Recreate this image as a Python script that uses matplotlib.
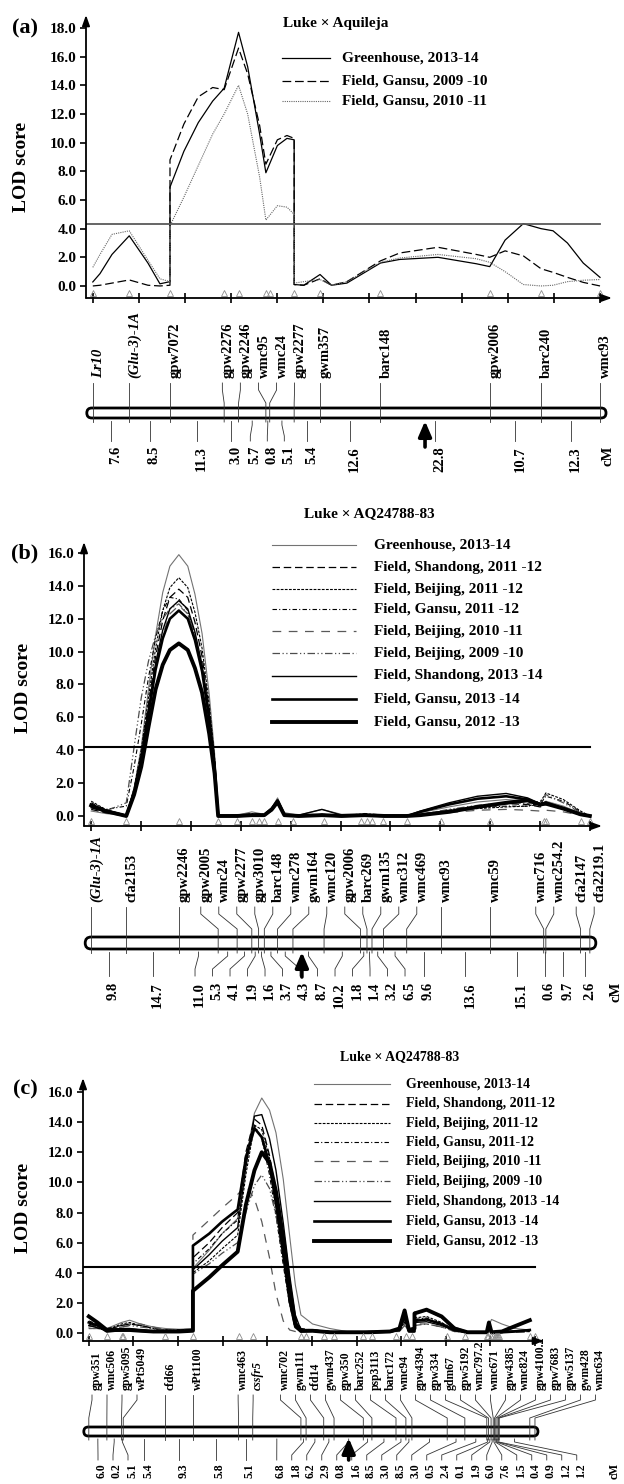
import numpy as np
import matplotlib
matplotlib.use("Agg")
import matplotlib.pyplot as plt
from matplotlib.patches import FancyBboxPatch
from matplotlib.transforms import blended_transform_factory

plt.rcParams['font.family'] = ['Liberation Serif', 'DejaVu Serif']
plt.rcParams['font.weight'] = 'bold'

# ----------------------------------------------------------------- data (a)
a_markers = ['Lr10', '(Glu-3)-1A', 'gpw7072', 'gpw2276', 'gpw2246', 'wmc95', 'wmc24',
             'gpw2277', 'gwm357', 'barc148', 'gpw2006', 'barc240', 'wmc93']
a_intervals = [7.6, 8.5, 11.3, 3.0, 5.7, 0.8, 5.1, 5.4, 12.6, 22.8, 10.7, 12.3]
a_x = [0, 1.5, 4, 7.6, 11.5, 14, 16.1, 16.1, 19, 22, 25, 27.4, 30.4, 32.3, 34.8, 36.1, 38.5, 40.5,
       42.0, 42.0, 44, 47.4, 49.8, 53, 60, 64, 72, 80, 82.8, 86, 89.8, 93.5, 96, 99, 102.3, 105.8]
a_greenhouse_1314 = [0.28, 0.86, 2.2, 3.5, 1.6, 0.15, 0.3, 6.9, 9.4, 11.4, 12.9, 13.8, 17.7, 15.3, 10.6,
                     7.9, 9.8, 10.3, 10.2, 0.1, 0.05, 0.8, 0.05, 0.2, 1.6, 1.85, 2.0, 1.55, 1.35, 3.2,
                     4.35, 4.0, 3.85, 3.0, 1.6, 0.6]
a_gansu_0910 = [0.0, 0.05, 0.2, 0.42, 0.05, 0.0, 0.05, 8.8, 11.3, 13.2, 13.85, 13.7, 16.6, 14.8, 11.2,
                8.5, 10.2, 10.5, 10.3, 0.1, 0.05, 0.5, 0.05, 0.3, 1.75, 2.3, 2.7, 2.2, 2.0, 2.45,
                2.1, 1.2, 0.95, 0.6, 0.25, 0.0]
a_gansu_1011 = [1.3, 2.2, 3.6, 3.85, 1.8, 0.5, 0.3, 4.2, 6.2, 8.4, 10.6, 12.0, 14.0, 12.0, 7.6,
                4.6, 5.6, 5.5, 5.0, 0.2, 0.3, 0.45, 0.05, 0.3, 1.65, 1.95, 2.2, 1.9, 1.65, 1.0,
                0.1, 0.0, 0.05, 0.3, 0.4, 0.45]
a_labels = ['Greenhouse, 2013-14', 'Field, Gansu, 2009 -10', 'Field, Gansu, 2010 -11']
a_title = 'Luke × Aquileja'
a_threshold = 4.3
a_qtl_arrow = 69.3

# ----------------------------------------------------------------- data (b)
b_markers = ['(Glu-3)-1A', 'cfa2153', 'gpw2246', 'gpw2005', 'wmc24', 'gpw2277', 'gpw3010', 'barc148',
             'wmc278', 'gwm164', 'wmc120', 'gpw2006', 'barc269', 'gwm135', 'wmc312', 'wmc469',
             'wmc93', 'wmc59', 'wmc716', 'wmc254.2', 'cfa2147', 'cfa2219.1']
b_intervals = [9.8, 14.7, 11.0, 5.3, 4.1, 1.9, 1.6, 3.7, 4.3, 8.7, 10.2, 1.8, 1.4, 3.2, 6.5, 9.6,
               13.6, 15.1, 0.6, 9.7, 2.6]
b_x = [0, 4, 9.8, 12, 14, 16, 18, 20, 22, 24.5, 27, 29, 31, 33, 34.5, 35.5, 40.8, 44.9, 48.4, 50.5,
       52.1, 54, 58, 64.5, 70, 76.5, 82, 88.2, 92, 100, 108, 116, 122, 125.5, 127.1, 132, 136.8, 139.4]
b_greenhouse_1314 = [0.3, 0.15, 0.0, 1.7, 4.2, 7.7, 11.0, 13.6, 15.2, 15.9, 15.2, 13.5, 11.1, 7.4, 3.8, 0.0,
                     0.05, 0.25, 0.1, 0.5, 1.1, 0.2, 0.05, 0.4, 0.1, 0.1, 0.05, 0.05, 0.2, 0.55, 0.85,
                     1.0, 0.9, 0.65, 0.9, 0.6, 0.15, 0.0]
b_shandong_1112 = [0.4, 0.2, 0.0, 1.6, 3.8, 6.8, 9.7, 11.9, 13.3, 13.8, 13.3, 11.8, 9.7, 6.5, 3.4, 0.0,
                   0.05, 0.1, 0.1, 0.4, 0.8, 0.1, 0.0, 0.1, 0.0, 0.05, 0.0, 0.0, 0.1, 0.35, 0.6,
                   0.75, 0.7, 0.55, 0.7, 0.45, 0.1, 0.0]
b_beijing_1112 = [0.9, 0.4, 0.05, 1.7, 4.0, 7.2, 10.2, 12.5, 13.9, 14.5, 13.9, 12.4, 10.2, 6.8, 3.5, 0.0,
                  0.0, 0.1, 0.05, 0.45, 0.95, 0.1, 0.0, 0.1, 0.05, 0.1, 0.0, 0.0, 0.1, 0.3, 0.45,
                  0.55, 0.6, 0.8, 1.4, 1.0, 0.3, 0.0]
b_gansu_1112 = [0.8, 0.4, 0.6, 3.0, 5.6, 8.4, 10.8, 12.5, 13.3, 13.2, 12.5, 11.0, 9.0, 6.0, 3.0, 0.0,
                0.05, 0.15, 0.1, 0.4, 0.85, 0.1, 0.0, 0.05, 0.0, 0.15, 0.05, 0.0, 0.1, 0.3, 0.5,
                0.6, 0.6, 0.7, 1.2, 0.9, 0.25, 0.0]
b_beijing_1011 = [0.7, 0.3, 0.0, 1.5, 3.5, 6.3, 9.0, 11.0, 12.3, 12.8, 12.3, 11.0, 9.0, 6.1, 3.1, 0.0,
                  0.0, 0.05, 0.05, 0.3, 0.7, 0.05, 0.0, 0.05, 0.0, 0.05, 0.0, 0.0, 0.05, 0.2, 0.35,
                  0.4, 0.35, 0.3, 0.35, 0.25, 0.05, 0.0]
b_beijing_0910 = [0.5, 0.3, 0.8, 4.2, 7.2, 9.4, 11.0, 12.0, 12.6, 12.9, 12.3, 10.9, 8.9, 6.0, 3.0, 0.0,
                  0.05, 0.1, 0.05, 0.35, 0.8, 0.1, 0.0, 0.1, 0.05, 0.1, 0.0, 0.0, 0.1, 0.4, 0.65,
                  0.8, 0.75, 0.9, 1.3, 0.8, 0.2, 0.0]
b_shandong_1314 = [0.5, 0.25, 0.0, 1.5, 3.6, 6.5, 9.3, 11.3, 12.6, 13.1, 12.6, 11.2, 9.2, 6.2, 3.2, 0.0,
                   0.0, 0.1, 0.05, 0.45, 0.9, 0.1, 0.05, 0.4, 0.05, 0.05, 0.0, 0.0, 0.3, 0.8, 1.2,
                   1.37, 1.1, 0.75, 0.85, 0.5, 0.1, 0.0]
b_gansu_1314 = [0.6, 0.3, 0.0, 1.4, 3.4, 6.2, 8.9, 10.8, 12.0, 12.5, 12.0, 10.7, 8.8, 5.9, 3.1, 0.0,
                0.0, 0.05, 0.05, 0.45, 0.95, 0.05, 0.0, 0.05, 0.0, 0.05, 0.0, 0.0, 0.25, 0.7, 1.05,
                1.2, 1.0, 0.7, 0.8, 0.45, 0.1, 0.0]
b_gansu_1213 = [0.65, 0.3, 0.0, 1.3, 3.0, 5.4, 7.7, 9.2, 10.1, 10.5, 10.1, 9.0, 7.5, 5.0, 2.6, 0.0,
                0.0, 0.05, 0.05, 0.4, 0.85, 0.05, 0.0, 0.05, 0.0, 0.05, 0.0, 0.0, 0.05, 0.25, 0.55,
                0.8, 0.95, 0.7, 0.75, 0.45, 0.1, 0.0]
b_labels = ['Greenhouse, 2013-14', 'Field, Shandong, 2011 -12', 'Field, Beijing, 2011 -12',
            'Field, Gansu, 2011 -12', 'Field, Beijing, 2010 -11', 'Field, Beijing, 2009 -10',
            'Field, Shandong, 2013 -14', 'Field, Gansu, 2013 -14', 'Field, Gansu, 2012 -13']
b_title = 'Luke × AQ24788-83'
b_threshold = 4.2
b_qtl_arrow = 58.9

# ----------------------------------------------------------------- data (c)
c_markers = ['gpw351', 'wmc506', 'gpw5095', 'wPt5049', 'cfd66', 'wPt1100', 'wmc463', 'cssfr5',
             'wmc702', 'gwm111', 'cfd14', 'gwm437', 'gpw350', 'barc252', 'psp3113', 'barc172',
             'wmc94', 'gpw4394', 'gpw334', 'gdm67', 'gpw5192', 'wmc797.2', 'wmc671', 'gpw4385',
             'wmc824', 'gpw4100.2', 'gpw7683', 'gpw5137', 'gwm428', 'wmc634']
c_positions = [0, 4.2, 7.6, 8.0, 17.8, 24.2, 34.8, 38.1, 49.3, 50.5, 54.6, 57.0, 63.8, 65.8, 71.4,
               73.7, 75.1, 83.3, 87.4, 92.5, 92.9, 93.5, 94.0, 94.3, 94.6, 94.9, 95.2, 95.4, 102.5, 103.7]
c_intervals = [6.0, 0.2, 5.1, 5.4, 9.3, 5.8, 5.1, 6.8, 1.8, 6.2, 2.9, 0.8, 1.6, 8.5, 3.0, 8.5, 3.0,
               0.5, 2.4, 0.1, 1.9, 6.0, 7.6, 1.5, 0.4, 0.9, 1.2, 1.2]
c_x = [0, 2, 4.2, 7.6, 9.5, 12, 15, 17.8, 21, 24.2,
       24.2, 28, 31, 34.6, 36.5, 38.5, 40.2, 42, 43.5, 45.2,
       46.7, 48, 49.3, 52, 56, 60, 65, 70, 72.2, 73.4,
       74.4, 75.7, 75.7, 78.5, 82, 85, 88, 92.5, 93.0, 93.6,
       96, 99, 102.5]
c_greenhouse_1314 = [0.4, 0.5, 0.3, 0.7, 0.85, 0.6, 0.4, 0.3, 0.25, 0.3,
                     4.3, 5.5, 6.6, 7.6, 11.5, 14.6, 15.6, 14.8, 13.3, 10.2,
                     6.4, 3.2, 1.2, 0.6, 0.3, 0.1, 0.1, 0.1, 0.3, 1.3,
                     0.3, 0.3, 1.4, 1.5, 1.0, 0.4, 0.1, 0.1, 0.5, 0.9,
                     0.6, 0.3, 0.2]
c_shandong_1112 = [0.6, 0.4, 0.2, 0.5, 0.6, 0.5, 0.3, 0.2, 0.2, 0.2,
                   5.0, 6.0, 7.0, 8.0, 12.0, 14.2, 13.8, 11.8, 9.3, 6.0,
                   3.0, 1.0, 0.3, 0.2, 0.1, 0.05, 0.1, 0.1, 0.2, 0.8,
                   0.2, 0.2, 0.9, 0.9, 0.6, 0.15, 0.05, 0.05, 0.3, 0.05,
                   0.05, 0.1, 0.1]
c_beijing_1112 = [0.3, 0.3, 0.2, 0.6, 0.7, 0.5, 0.3, 0.2, 0.2, 0.2,
                  4.0, 4.8, 5.6, 6.5, 10.5, 13.8, 13.5, 11.6, 9.2, 5.8,
                  2.8, 0.8, 0.2, 0.2, 0.1, 0.05, 0.1, 0.1, 0.2, 0.9,
                  0.2, 0.2, 1.0, 1.1, 0.7, 0.2, 0.05, 0.05, 0.3, 0.1,
                  0.1, 0.1, 0.1]
c_gansu_1112 = [0.8, 0.6, 0.3, 0.5, 0.6, 0.5, 0.3, 0.2, 0.2, 0.2,
                4.6, 5.6, 6.6, 7.5, 11.8, 13.8, 12.9, 10.5, 7.8, 4.5,
                1.8, 0.4, 0.2, 0.2, 0.1, 0.05, 0.1, 0.1, 0.15, 0.7,
                0.15, 0.2, 0.9, 1.0, 0.6, 0.2, 0.05, 0.05, 0.2, 0.05,
                0.05, 0.1, 0.1]
c_beijing_1011 = [0.3, 0.3, 0.1, 0.4, 0.5, 0.6, 0.4, 0.2, 0.2, 0.3,
                  6.5, 7.5, 8.3, 9.2, 9.8, 8.9, 7.4, 5.0, 2.6, 0.8,
                  0.2, 0.1, 0.1, 0.1, 0.1, 0.05, 0.05, 0.05, 0.1, 0.5,
                  0.1, 0.1, 0.6, 0.6, 0.4, 0.1, 0.05, 0.05, 0.1, 0.05,
                  0.05, 0.05, 0.05]
c_beijing_0910 = [0.5, 0.4, 0.2, 0.4, 0.5, 0.4, 0.3, 0.2, 0.15, 0.2,
                  3.9, 4.6, 5.3, 6.0, 8.0, 9.8, 10.5, 9.6, 7.8, 5.0,
                  2.5, 0.8, 0.2, 0.2, 0.1, 0.05, 0.1, 0.1, 0.1, 0.6,
                  0.1, 0.1, 0.5, 0.6, 0.4, 0.1, 0.05, 0.05, 0.2, 0.05,
                  0.05, 0.1, 0.1]
c_shandong_1314 = [0.5, 0.35, 0.15, 0.3, 0.3, 0.2, 0.1, 0.1, 0.15, 0.2,
                   4.2, 5.2, 6.1, 7.0, 11.0, 14.4, 14.5, 12.9, 10.8, 7.3,
                   3.8, 1.2, 0.2, 0.2, 0.1, 0.05, 0.1, 0.1, 0.2, 1.0,
                   0.2, 0.2, 0.7, 0.75, 0.5, 0.15, 0.05, 0.05, 0.4, 0.05,
                   0.1, 0.15, 0.2]
c_gansu_1314 = [0.7, 0.5, 0.1, 0.2, 0.2, 0.15, 0.1, 0.1, 0.1, 0.2,
                5.8, 6.6, 7.4, 8.2, 11.6, 13.6, 13.0, 11.2, 8.6, 5.2,
                2.1, 0.4, 0.1, 0.15, 0.05, 0.05, 0.05, 0.1, 0.2, 1.3,
                0.1, 0.1, 0.8, 0.9, 0.6, 0.2, 0.05, 0.05, 0.6, 0.05,
                0.05, 0.1, 0.2]
c_gansu_1213 = [1.1, 0.7, 0.2, 0.2, 0.2, 0.15, 0.1, 0.1, 0.1, 0.15,
                2.8, 3.7, 4.5, 5.4, 8.5, 10.8, 12.0, 11.3, 9.4, 6.3,
                2.9, 0.6, 0.15, 0.15, 0.05, 0.05, 0.05, 0.1, 0.3, 1.5,
                0.2, 0.3, 1.3, 1.55, 1.1, 0.3, 0.05, 0.05, 0.7, 0.05,
                0.1, 0.45, 0.85]
c_labels = ['Greenhouse, 2013-14', 'Field, Shandong, 2011-12', 'Field, Beijing, 2011-12',
            'Field, Gansu, 2011-12', 'Field, Beijing, 2010 -11', 'Field, Beijing, 2009 -10',
            'Field, Shandong, 2013 -14', 'Field, Gansu, 2013 -14', 'Field, Gansu, 2012 -13']
c_title = 'Luke × AQ24788-83'
c_threshold = 4.35
c_qtl_arrow = 60.4

lod_ticks_a = [0, 2, 4, 6, 8, 10, 12, 14, 16, 18]
lod_ticks_bc = [0, 2, 4, 6, 8, 10, 12, 14, 16]
ITALIC = {'Lr10', '(Glu-3)-1A', 'cssfr5'}

# ----------------------------------------------------------------- styles
STY9 = [dict(color='0.45', lw=0.8, ls='-'),
        dict(color='k', lw=0.9, ls=(0, (6, 3))),
        dict(color='k', lw=0.8, ls=(0, (2.5, 1.2))),
        dict(color='k', lw=0.8, ls=(0, (4, 2, 1, 2))),
        dict(color='0.35', lw=0.9, ls=(0, (7, 6))),
        dict(color='0.3', lw=0.9, ls=(0, (6, 2, 1, 2, 1, 2))),
        dict(color='k', lw=1.0, ls='-'),
        dict(color='k', lw=1.9, ls='-'),
        dict(color='k', lw=2.8, ls='-')]
STY3 = [dict(color='k', lw=0.9, ls='-'),
        dict(color='k', lw=0.9, ls=(0, (7, 3))),
        dict(color='0.4', lw=0.8, ls=(0, (1, 1)))]

W, H = 624, 1484
fig = plt.figure(figsize=(W / 100, H / 100), dpi=100)
ov = fig.add_axes([0, 0, 1, 1], zorder=10)
ov.set_xlim(0, W)
ov.set_ylim(H, 0)
ov.axis('off')


def make_axes(x0, x1, ytop, ybot, xlim, ylim, xend, nticks, yticks, fs):
    ax = fig.add_axes([x0 / W, 1 - ybot / H, (x1 - x0) / W, (ybot - ytop) / H])
    ax.set_xlim(*xlim)
    ax.set_ylim(*ylim)
    for s in ax.spines.values():
        s.set_visible(False)
    ax.patch.set_alpha(0)
    ap = dict(arrowstyle='-|>,head_width=0.25,head_length=0.7', lw=1.3, color='k',
              mutation_scale=9, shrinkA=0, shrinkB=0)
    ax.annotate('', xy=(0, 1), xytext=(0, 0), xycoords='axes fraction', arrowprops=ap)
    ax.annotate('', xy=(1, 0), xytext=(0, 0), xycoords='axes fraction', arrowprops=ap)
    ax.set_xticks(np.linspace(0, xend, nticks))
    ax.tick_params(axis='x', direction='inout', length=7, width=1.2, labelbottom=False)
    ax.set_yticks(yticks)
    ax.set_yticklabels([f'{v:.1f}' for v in yticks], fontweight='bold')
    ax.tick_params(axis='y', direction='out', length=4, width=1.2, labelsize=fs, pad=3)
    return ax


def cm2px(ax, v):
    v = np.atleast_1d(np.asarray(v, float))
    disp = ax.transData.transform(np.column_stack([v, np.zeros_like(v)]))
    return ov.transData.inverted().transform(disp)[:, 0]


def dodge(xs, gap, lo, hi):
    xs = np.asarray(xs, float)
    order = np.argsort(xs, kind='stable')
    clusters = [[v] for v in xs[order]]

    def place(c):
        n = len(c)
        s = np.mean(c) - (n - 1) * gap / 2
        return max(lo, min(s, hi - (n - 1) * gap))
    merged = True
    while merged:
        merged = False
        i = 0
        while i < len(clusters) - 1:
            a, b = clusters[i], clusters[i + 1]
            if place(b) - (place(a) + (len(a) - 1) * gap) < gap - 1e-9:
                clusters[i] = a + b
                del clusters[i + 1]
                merged = True
            else:
                i += 1
    out = []
    for c in clusters:
        s = place(c)
        out += [s + k * gap for k in range(len(c))]
    res = np.empty(len(xs))
    res[order] = out
    return res


def draw_map(ax, names, pos, ivals, L, fs_name, fs_num, gt, lot, hit, gb, lob, hib,
             arrow_cm, cm_x, padl, padr):
    mx = cm2px(ax, pos)
    lx = dodge(mx, gt, lot, hit)
    for name, m, l in zip(names, mx, lx):
        ov.text(l - 1, L['lab'], name, rotation=90, ha='left', va='bottom', fontsize=fs_name,
                fontweight='bold', fontstyle='italic' if name in ITALIC else 'normal')
        ov.plot([l, l, m, m], [L['lab'] + 5, L['l1'], L['l2'], L['bb'] + 4],
                color='0.2', lw=0.6, zorder=3)
    bar = FancyBboxPatch((mx[0] - padl, L['bt']), mx[-1] + padr - mx[0] + padl, L['bb'] - L['bt'],
                         boxstyle=f"round,pad=0,rounding_size={(L['bb'] - L['bt']) / 2}",
                         fc='white', ec='k', lw=2.0, zorder=2)
    ov.add_patch(bar)
    mids = [(pos[i] + pos[i + 1]) / 2 for i in range(len(ivals))]
    mm = cm2px(ax, mids)
    lb = dodge(mm, gb, lob, hib)
    for v, m, l in zip(ivals, mm, lb):
        ov.plot([m, m, l, l], [L['bb'] + 3, L['b1'], L['b2'], L['b3']], color='0.2', lw=0.6, zorder=3)
        ov.text(l - 2, L['num'], f'{v:.1f}', rotation=90, ha='left', va='top', fontsize=fs_num,
                fontweight='bold')
    ov.text(cm_x, L['num'], 'cM', rotation=90, ha='left', va='top', fontsize=fs_num, fontweight='bold')
    apx = cm2px(ax, arrow_cm)[0]
    ov.annotate('', xy=(apx, L['at']), xytext=(apx, L['ab']),
                arrowprops=dict(arrowstyle='-|>,head_width=0.3,head_length=0.7', lw=2.6, color='k',
                                mutation_scale=13, shrinkA=0, shrinkB=0), zorder=4)


def triangles(ax, pos):
    tr = blended_transform_factory(ax.transData, ax.transAxes)
    ax.plot(pos, np.full(len(pos), 0.018), transform=tr, marker='^', ms=4, mfc='none', mec='0.55',
            mew=0.6, ls='none', clip_on=False)


def legend(labels, styles, x0, x1, xt, ys, fs):
    for lab, st, y in zip(labels, styles, ys):
        ov.plot([x0, x1], [y, y], color=st['color'], lw=st['lw'], ls=st['ls'])
        ov.text(xt, y, lab, ha='left', va='center', fontsize=fs, fontweight='bold')


# ================================================================= panel (a)
a_pos = np.concatenate([[0], np.cumsum(a_intervals)])
axA = make_axes(86, 612, 15, 298, (-1.42, 108.3), (-0.84, 18.91), a_pos[-1], 12, lod_ticks_a, 11)
for ys, st in zip([a_greenhouse_1314, a_gansu_0910, a_gansu_1011], STY3):
    axA.plot(a_x, ys, color=st['color'], lw=st['lw'], ls=st['ls'])
axA.plot([axA.get_xlim()[0], a_pos[-1]], [a_threshold, a_threshold], color='0.35', lw=1.3)
triangles(axA, a_pos)
legend(a_labels, STY3, 282, 330, 342, [58, 81, 101], 11)
ov.text(336, 24, a_title, ha='center', va='center', fontsize=11, fontweight='bold')
ov.text(25, 28, '(a)', ha='center', va='center', fontsize=16, fontweight='bold')
ov.text(22, 167, 'LOD score', rotation=90, ha='center', va='center', fontsize=14, fontweight='bold')
draw_map(axA, a_markers, a_pos, a_intervals,
         dict(lab=378, l1=390, l2=403, bt=408, bb=418, b1=425, b2=436, b3=441, num=446, at=421, ab=447),
         10.5, 10.5, 18, 90, 606, 17, 100, 590, a_qtl_arrow, 601, 6, 6)

# ================================================================= panel (b)
b_pos = np.concatenate([[0], np.cumsum(b_intervals)])
axB = make_axes(84, 602, 542, 826, (-2.01, 142.8), (-0.61, 16.67), b_pos[-1], 11, lod_ticks_bc, 11)
for ys, st in zip([b_greenhouse_1314, b_shandong_1112, b_beijing_1112, b_gansu_1112, b_beijing_1011,
                   b_beijing_0910, b_shandong_1314, b_gansu_1314, b_gansu_1213], STY9):
    axB.plot(b_x, ys, color=st['color'], lw=st['lw'], ls=st['ls'])
axB.plot([axB.get_xlim()[0], b_pos[-1]], [b_threshold, b_threshold], color='k', lw=1.5)
triangles(axB, b_pos)
legend(b_labels, STY9, 272, 356, 374, [545, 567, 589, 609, 631, 653, 676, 699, 722], 11)
ov.text(369, 514, b_title, ha='center', va='center', fontsize=11, fontweight='bold')
ov.text(25, 553, '(b)', ha='center', va='center', fontsize=16, fontweight='bold')
ov.text(24, 688, 'LOD score', rotation=90, ha='center', va='center', fontsize=14, fontweight='bold')
draw_map(axB, b_markers, b_pos, b_intervals,
         dict(lab=902, l1=914, l2=929, bt=937, bb=949, b1=956, b2=969, b3=976, num=982, at=952, ab=977),
         10.5, 10.5, 18, 90, 606, 17.5, 100, 596, b_qtl_arrow, 610, 6, 6)

# ================================================================= panel (c)
axC = make_axes(83, 544, 1078, 1341, (-1.35, 105.8), (-0.53, 16.93), 103.7, 11, lod_ticks_bc, 10.5)
for ys, st in zip([c_greenhouse_1314, c_shandong_1112, c_beijing_1112, c_gansu_1112, c_beijing_1011,
                   c_beijing_0910, c_shandong_1314, c_gansu_1314, c_gansu_1213], STY9):
    axC.plot(c_x, ys, color=st['color'], lw=st['lw'], ls=st['ls'])
axC.plot([axC.get_xlim()[0], c_positions[-1]], [c_threshold, c_threshold], color='k', lw=1.5)
triangles(axC, c_positions)
legend(c_labels, STY9, 314, 390, 406, [1084, 1104, 1123, 1142, 1161, 1181, 1201, 1221, 1241], 10)
ov.text(400, 1057, c_title, ha='center', va='center', fontsize=10, fontweight='bold')
ov.text(25, 1089, '(c)', ha='center', va='center', fontsize=16, fontweight='bold')
ov.text(24, 1208, 'LOD score', rotation=90, ha='center', va='center', fontsize=14, fontweight='bold')
draw_map(axC, c_markers, c_positions, c_intervals,
         dict(lab=1390, l1=1400, l2=1418, bt=1427, bb=1436, b1=1442, b2=1455, b3=1460, num=1463,
              at=1438, ab=1460),
         8.5, 8.5, 15, 92, 614, 15, 98, 596, c_qtl_arrow, 609, 5, 3)

fig.savefig('out.png', dpi=100)
